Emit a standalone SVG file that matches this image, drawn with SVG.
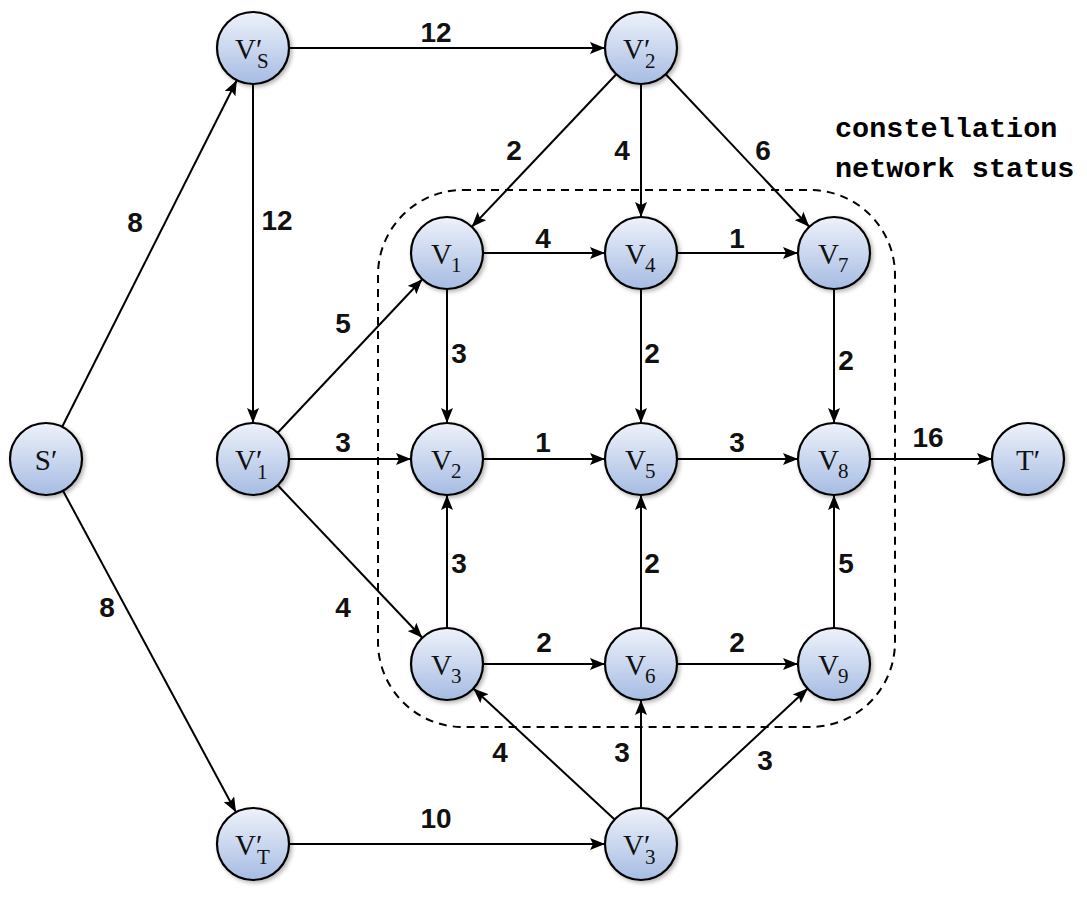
<svg xmlns="http://www.w3.org/2000/svg" width="1087" height="900" viewBox="0 0 1087 900">
<defs>
<linearGradient id="g" x1="0" y1="0" x2="0" y2="1">
<stop offset="0" stop-color="#eef2fa"/>
<stop offset="1" stop-color="#a6bce3"/>
</linearGradient>
<filter id="sh" x="-30%" y="-30%" width="160%" height="160%">
<feDropShadow dx="2" dy="2" stdDeviation="2" flood-color="#000" flood-opacity="0.3"/>
</filter>
<marker id="ah" markerUnits="userSpaceOnUse" markerWidth="16" markerHeight="12" viewBox="0 0 16 12" refX="15" refY="6" orient="auto">
<path d="M0,0 L15,6 L0,12 L3,6 z" fill="#000"/>
</marker>
</defs>
<style>
.n circle{fill:url(#g);stroke:#000;stroke-width:2.2;filter:url(#sh)}
.v{font-family:"Liberation Serif","DejaVu Serif",serif;font-size:29px;fill:#111}
.s{font-size:21px}
.p{font-size:29px}
.e line{stroke:#000;stroke-width:2;marker-end:url(#ah)}
.l{font-family:"Liberation Sans",Arial,sans-serif;font-weight:bold;font-size:28px;fill:#111;text-anchor:middle}
.t{font-family:"Liberation Mono","DejaVu Sans Mono",monospace;font-weight:bold;font-size:28.5px;fill:#000}
</style>
<rect x="378" y="190" width="517" height="537" rx="85" ry="85" fill="none" stroke="#000" stroke-width="2" stroke-dasharray="8,6"/>
<g id="connectors" class="e">
<line x1="289" y1="48" x2="605" y2="48"/>
<line x1="483" y1="253" x2="605" y2="253"/>
<line x1="677" y1="253" x2="798" y2="253"/>
<line x1="289" y1="459" x2="411" y2="459"/>
<line x1="483" y1="459" x2="605" y2="459"/>
<line x1="677" y1="459" x2="798" y2="459"/>
<line x1="870" y1="459" x2="992" y2="459"/>
<line x1="483" y1="664" x2="605" y2="664"/>
<line x1="677" y1="664" x2="798" y2="664"/>
<line x1="289" y1="844" x2="605" y2="844"/>
<line x1="253" y1="84" x2="253" y2="423"/>
<line x1="641" y1="84" x2="641" y2="217"/>
<line x1="447" y1="289" x2="447" y2="423"/>
<line x1="641" y1="289" x2="641" y2="423"/>
<line x1="834" y1="289" x2="834" y2="423"/>
<line x1="447" y1="628" x2="447" y2="495"/>
<line x1="641" y1="628" x2="641" y2="495"/>
<line x1="834" y1="628" x2="834" y2="495"/>
<line x1="641" y1="808" x2="641" y2="700"/>
<line x1="62.2" y1="426.8" x2="236.8" y2="80.2"/>
<line x1="63" y1="490.7" x2="236" y2="812.3"/>
<line x1="616.3" y1="74.2" x2="471.7" y2="226.9"/>
<line x1="665.7" y1="74.2" x2="809.3" y2="226.8"/>
<line x1="277.7" y1="432.8" x2="422.3" y2="279.2"/>
<line x1="277.7" y1="485.2" x2="422.3" y2="637.8"/>
<line x1="614.6" y1="819.5" x2="473.4" y2="688.5"/>
<line x1="667.3" y1="819.4" x2="807.7" y2="688.6"/>
</g>
<g id="labels">
<text class="l" x="436" y="42">12</text>
<text class="l" x="135" y="232">8</text>
<text class="l" x="277" y="230">12</text>
<text class="l" x="514" y="160">2</text>
<text class="l" x="622" y="160">4</text>
<text class="l" x="763" y="160">6</text>
<text class="l" x="543" y="248">4</text>
<text class="l" x="737" y="248">1</text>
<text class="l" x="343" y="333">5</text>
<text class="l" x="459" y="363">3</text>
<text class="l" x="652" y="363">2</text>
<text class="l" x="846" y="370">2</text>
<text class="l" x="343" y="452">3</text>
<text class="l" x="543" y="452">1</text>
<text class="l" x="737" y="452">3</text>
<text class="l" x="928" y="447">16</text>
<text class="l" x="107" y="617">8</text>
<text class="l" x="343" y="617">4</text>
<text class="l" x="459" y="573">3</text>
<text class="l" x="652" y="573">2</text>
<text class="l" x="846" y="573">5</text>
<text class="l" x="544" y="652">2</text>
<text class="l" x="737" y="652">2</text>
<text class="l" x="500" y="762">4</text>
<text class="l" x="622" y="762">3</text>
<text class="l" x="765" y="770">3</text>
<text class="l" x="436" y="828">10</text>
</g>
<text class="t" x="835" y="137">constellation</text>
<text class="t" x="835" y="177">network status</text>
<g id="S0" class="n"><circle cx="46" cy="459" r="36"/><text class="v" x="46" y="470" text-anchor="middle">S′</text></g>
<g id="T0" class="n"><circle cx="1028" cy="459" r="36"/><text class="v" x="1028" y="470" text-anchor="middle">T′</text></g>
<g id="VS" class="n"><circle cx="253" cy="48" r="36"/><text class="v" x="235" y="59">V<tspan class="p" x="256" y="59">′</tspan><tspan class="s" x="257" y="68">S</tspan></text></g>
<g id="V2p" class="n"><circle cx="641" cy="48" r="36"/><text class="v" x="623" y="59">V<tspan class="p" x="644" y="59">′</tspan><tspan class="s" x="645" y="68">2</tspan></text></g>
<g id="V1p" class="n"><circle cx="253" cy="459" r="36"/><text class="v" x="235" y="470">V<tspan class="p" x="256" y="470">′</tspan><tspan class="s" x="257" y="479">1</tspan></text></g>
<g id="VT" class="n"><circle cx="253" cy="844" r="36"/><text class="v" x="235" y="855">V<tspan class="p" x="256" y="855">′</tspan><tspan class="s" x="257" y="864">T</tspan></text></g>
<g id="V3p" class="n"><circle cx="641" cy="844" r="36"/><text class="v" x="623" y="855">V<tspan class="p" x="644" y="855">′</tspan><tspan class="s" x="645" y="864">3</tspan></text></g>
<g id="V1" class="n"><circle cx="447" cy="253" r="36"/><text class="v" x="431" y="264">V<tspan class="s" x="451" y="272">1</tspan></text></g>
<g id="V4" class="n"><circle cx="641" cy="253" r="36"/><text class="v" x="625" y="264">V<tspan class="s" x="645" y="272">4</tspan></text></g>
<g id="V7" class="n"><circle cx="834" cy="253" r="36"/><text class="v" x="818" y="264">V<tspan class="s" x="838" y="272">7</tspan></text></g>
<g id="V2" class="n"><circle cx="447" cy="459" r="36"/><text class="v" x="431" y="470">V<tspan class="s" x="451" y="478">2</tspan></text></g>
<g id="V5" class="n"><circle cx="641" cy="459" r="36"/><text class="v" x="625" y="470">V<tspan class="s" x="645" y="478">5</tspan></text></g>
<g id="V8" class="n"><circle cx="834" cy="459" r="36"/><text class="v" x="818" y="470">V<tspan class="s" x="838" y="478">8</tspan></text></g>
<g id="V3" class="n"><circle cx="447" cy="664" r="36"/><text class="v" x="431" y="675">V<tspan class="s" x="451" y="683">3</tspan></text></g>
<g id="V6" class="n"><circle cx="641" cy="664" r="36"/><text class="v" x="625" y="675">V<tspan class="s" x="645" y="683">6</tspan></text></g>
<g id="V9" class="n"><circle cx="834" cy="664" r="36"/><text class="v" x="818" y="675">V<tspan class="s" x="838" y="683">9</tspan></text></g>
</svg>
